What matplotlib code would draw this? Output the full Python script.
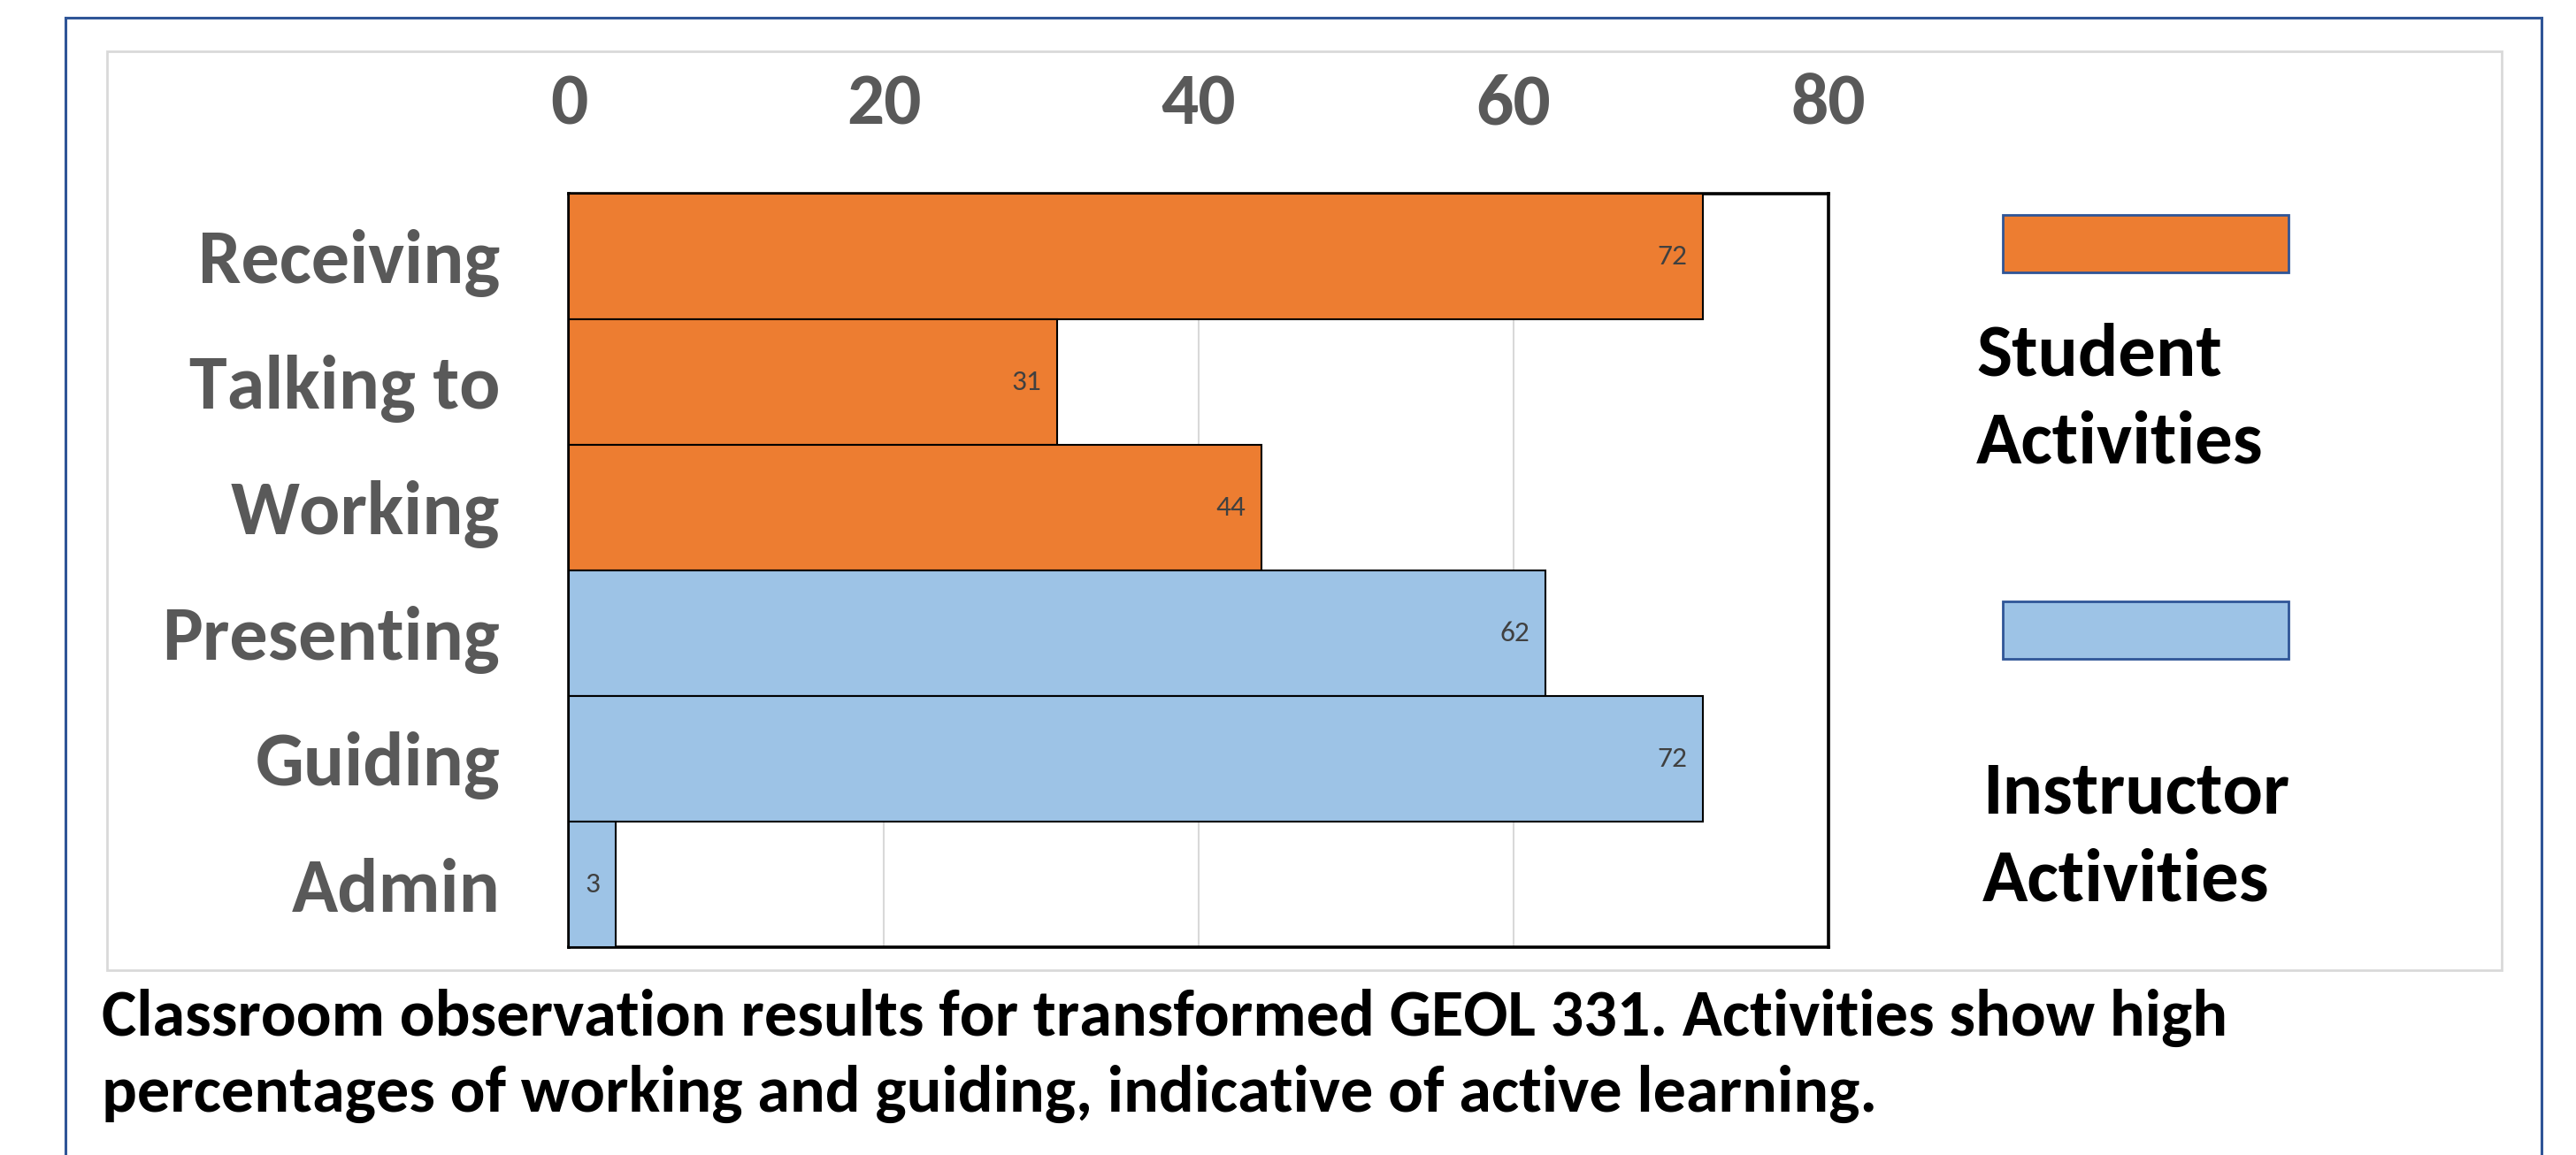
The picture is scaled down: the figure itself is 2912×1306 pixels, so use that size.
import matplotlib
matplotlib.use("Agg")
import matplotlib.pyplot as plt
from matplotlib.patches import Rectangle
from matplotlib.lines import Line2D

plt.rcParams['font.family'] = ['Carlito', 'Lato', 'DejaVu Sans']

# Data
categories = ["Receiving", "Talking to", "Working", "Presenting", "Guiding", "Admin"]
values = [72, 31, 44, 62, 72, 3]
groups = ["Student", "Student", "Student", "Instructor", "Instructor", "Instructor"]
x_ticks = [0, 20, 40, 60, 80]
legend_labels = ["Student\nActivities", "Instructor\nActivities"]
caption = ("Classroom observation results for transformed GEOL 331. Activities show high\n"
           "percentages of working and guiding, indicative of active learning.")

colors = {"Student": "#ED7D31", "Instructor": "#9DC3E6"}
GRAY = "#595959"

W, H = 2912, 1306
fig = plt.figure(figsize=(W / 100, H / 100), dpi=100)
fig.patch.set_facecolor("white")


def fx(px):
    return px / W


def fy(py):
    return 1 - py / H


# Outer blue frame (open at the bottom)
for xs, ys in [((74, 74), (20, H)), ((74, 2873), (20, 20)), ((2873, 2873), (20, H))]:
    fig.add_artist(Line2D([fx(x) for x in xs], [fy(y) for y in ys],
                          color="#2F5597", lw=2.2, transform=fig.transFigure, zorder=-2))

# Chart area light border
fig.add_artist(Rectangle((fx(121), fy(1097)), fx(2828) - fx(121), fy(58) - fy(1097),
                         transform=fig.transFigure, facecolor="white",
                         edgecolor="#D9D9D9", lw=2.0, zorder=-1))

# Plot area
left, right, top, bottom = 643, 2067, 219, 1071
ax = fig.add_axes([fx(left), fy(bottom), fx(right) - fx(left), fy(top) - fy(bottom)])
ax.set_zorder(2)

ypos = list(range(len(categories)))
bar_colors = [colors[g] for g in groups]
bars = ax.barh(ypos, values, height=1.0, color=bar_colors, edgecolor="black",
               linewidth=1.5, zorder=3)

ax.set_xlim(x_ticks[0], x_ticks[-1])
ax.set_ylim(len(categories) - 0.5, -0.5)
ax.set_xticks(x_ticks)
ax.set_xticklabels([str(t) for t in x_ticks])
ax.xaxis.tick_top()
ax.set_yticks(ypos)
ax.set_yticklabels(categories)
ax.tick_params(axis="x", length=0, pad=47, labelsize=60, labelcolor=GRAY)
ax.tick_params(axis="y", length=0, pad=56, labelsize=62, labelcolor=GRAY)
for lbl in ax.get_xticklabels() + ax.get_yticklabels():
    lbl.set_fontweight("bold")

ax.grid(axis="x", color="#D9D9D9", lw=1.5, zorder=0)
ax.set_axisbelow(True)
for sp in ax.spines.values():
    sp.set_color("black")
    sp.set_linewidth(2.6)

# Value labels inside the bar ends
for b, v in zip(bars, values):
    ax.text(b.get_width() - 1.0, b.get_y() + b.get_height() / 2, str(v),
            ha="right", va="center", fontsize=24, color="#404040", zorder=4)

# Legend swatches and labels
fig.add_artist(Rectangle((fx(2264), fy(308)), fx(2587) - fx(2264), fy(243) - fy(308),
                         transform=fig.transFigure, facecolor=colors["Student"],
                         edgecolor="#2F5597", lw=2.0))
fig.add_artist(Rectangle((fx(2264), fy(745)), fx(2587) - fx(2264), fy(680) - fy(745),
                         transform=fig.transFigure, facecolor=colors["Instructor"],
                         edgecolor="#2F5597", lw=2.0))
fig.text(fx(2234), fy(451), legend_labels[0], ha="left", va="center",
         fontsize=61, fontweight="bold", color="black", linespacing=1.42)
fig.text(fx(2241), fy(946), legend_labels[1], ha="left", va="center",
         fontsize=61, fontweight="bold", color="black", linespacing=1.42)

# Caption
fig.text(fx(115), fy(1194), caption, ha="left", va="center",
         fontsize=53.5, fontweight="bold", color="black", linespacing=1.38)

fig.savefig("out.png", dpi=100, facecolor="white")
